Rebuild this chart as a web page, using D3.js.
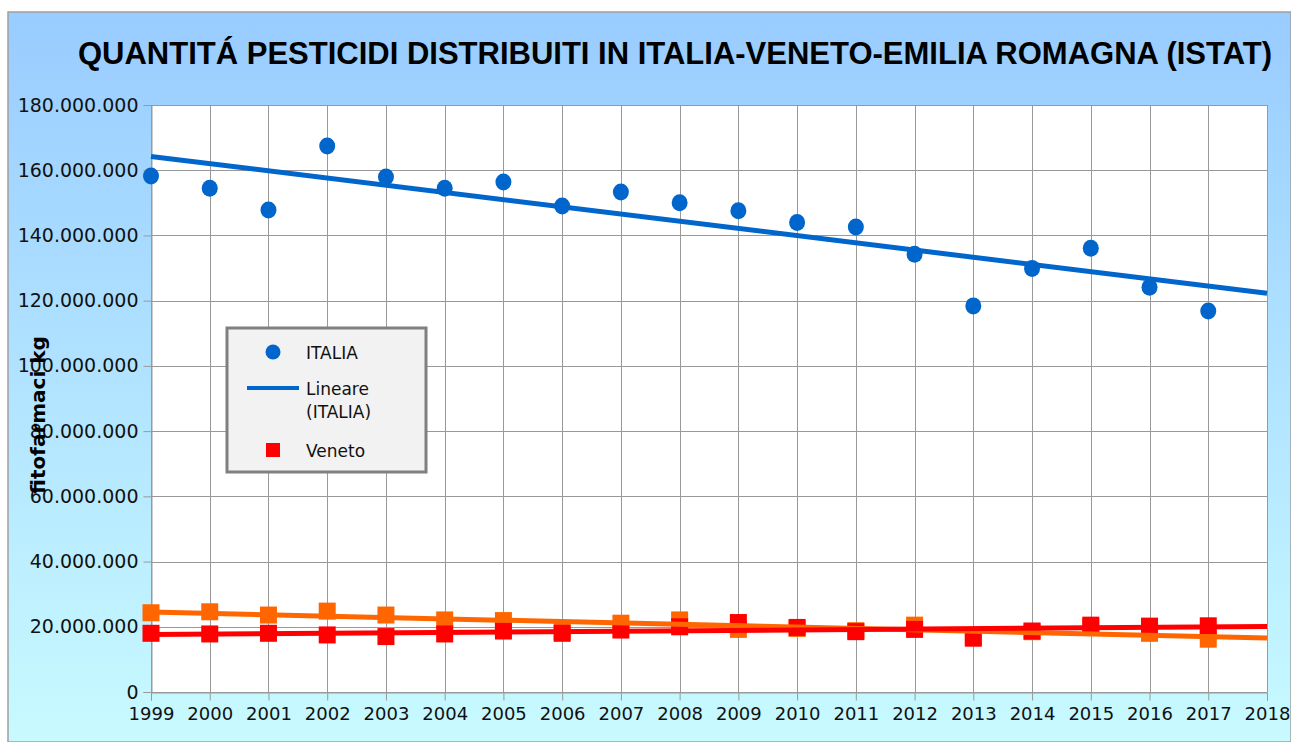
<!DOCTYPE html>
<html>
<head>
<meta charset="utf-8">
<script src="https://cdn.jsdelivr.net/npm/d3@7"></script>
<style>
  body { margin: 0; background: #fff; }
  svg { display: block; }
</style>
</head>
<body>
<svg id="chart" width="1291" height="742"></svg>
<script>
// years on the x axis
const years = [1999, 2000, 2001, 2002, 2003, 2004, 2005, 2006, 2007, 2008,
  2009, 2010, 2011, 2012, 2013, 2014, 2015, 2016, 2017];
// kg
const italia = [158.2, 154.5, 147.8, 167.4, 157.9, 154.5, 156.4, 149.0, 153.3, 150.0,
  147.6, 144.0, 142.6, 134.2, 118.4, 129.9, 136.1, 124.1, 116.8].map(v => v * 1e6);
const veneto = [18.0, 17.8, 18.0, 17.5, 17.0, 17.8, 18.7, 18.0, 19.0, 20.0,
  21.3, 19.8, 18.5, 19.2, 16.5, 18.7, 20.5, 20.2, 20.3].map(v => v * 1e6);
const emilia = [24.3, 24.6, 23.6, 24.8, 23.6, 22.1, 21.9, 18.5, 21.1, 22.1,
  19.2, 19.5, 18.8, 20.5, 16.8, 18.5, 20.0, 18.0, 16.2].map(v => v * 1e6);
const yTicks = [0, 20e6, 40e6, 60e6, 80e6, 100e6, 120e6, 140e6, 160e6, 180e6];

const W = 1291, H = 742;
const margin = { top: 105, right: 24, bottom: 50, left: 151 };
const svg = d3.select("#chart");

// background
const defs = svg.append("defs");
const grad = defs.append("linearGradient").attr("id", "bg")
  .attr("x1", 0).attr("y1", 0).attr("x2", 0).attr("y2", 1);
grad.append("stop").attr("offset", "0%").attr("stop-color", "#99ccff");
grad.append("stop").attr("offset", "100%").attr("stop-color", "#c8faff");
svg.append("rect").attr("x", 8).attr("y", 12).attr("width", W - 8).attr("height", H - 12)
  .attr("fill", "url(#bg)").attr("stroke", "#a0a0a0").attr("stroke-width", 1.5);

const x = d3.scaleLinear().domain([1999, 2018]).range([margin.left, W - margin.right]);
const y = d3.scaleLinear().domain([0, 180e6]).range([H - margin.bottom, margin.top]);

svg.append("rect").attr("x", x(1999)).attr("y", y(180e6))
  .attr("width", x(2018) - x(1999)).attr("height", y(0) - y(180e6)).attr("fill", "#fff");

const fmt = v => v === 0 ? "0" : d3.format(",")(v).replace(/,/g, ".");

// grid
const grid = svg.append("g").attr("stroke", "#999").attr("stroke-width", 1);
grid.selectAll(".gy").data(yTicks).enter().append("line")
  .attr("x1", x(1999)).attr("x2", x(2018))
  .attr("y1", d => Math.round(y(d)) + 0.5).attr("y2", d => Math.round(y(d)) + 0.5);
grid.selectAll(".gx").data(years.concat([2018])).enter().append("line")
  .attr("y1", y(180e6)).attr("y2", y(0))
  .attr("x1", d => Math.round(x(d)) + 0.5).attr("x2", d => Math.round(x(d)) + 0.5);

// axes
const xAxis = svg.append("g").attr("transform", `translate(0,${Math.round(y(0)) + 0.5})`)
  .call(d3.axisBottom(x).tickValues(years.concat([2018])).tickFormat(d3.format("d")).tickSizeOuter(0).tickSize(8).tickPadding(7));
const yAxis = svg.append("g").attr("transform", `translate(${Math.round(x(1999)) + 0.5},0)`)
  .call(d3.axisLeft(y).tickValues(yTicks).tickFormat(fmt).tickSizeOuter(0).tickSize(8).tickPadding(5));
[xAxis, yAxis].forEach(a => {
  a.selectAll("path, line").attr("stroke", "#999");
  a.selectAll("text").attr("fill", "#111").style("font-family", "DejaVu Sans, Verdana, sans-serif");
});
xAxis.selectAll("text").style("font-size", "18px");
yAxis.selectAll("text").style("font-size", "19px");

// markers
const sq = 17;
svg.append("g").selectAll("rect").data(emilia).enter().append("rect")
  .attr("x", (d, i) => x(years[i]) - sq / 2).attr("y", d => y(d) - sq / 2)
  .attr("width", sq).attr("height", sq).attr("fill", "#ff6600");
svg.append("g").selectAll("rect").data(veneto).enter().append("rect")
  .attr("x", (d, i) => x(years[i]) - sq / 2).attr("y", d => y(d) - sq / 2)
  .attr("width", sq).attr("height", sq).attr("fill", "#ff0000");
svg.append("g").selectAll("ellipse").data(italia).enter().append("ellipse")
  .attr("cx", (d, i) => x(years[i])).attr("cy", d => y(d))
  .attr("rx", 8).attr("ry", 8.5).attr("fill", "#0066cc");

// linear trendlines (least squares)
function trend(vals) {
  const mx = d3.mean(years), my = d3.mean(vals);
  let sxy = 0, sxx = 0;
  years.forEach((yr, i) => { sxy += (yr - mx) * (vals[i] - my); sxx += (yr - mx) * (yr - mx); });
  const b = sxy / sxx, a = my - b * mx;
  return [1999, 2018].map(t => [t, a + b * t]);
}
const line = d3.line().x(d => x(d[0])).y(d => y(d[1]));
[[emilia, "#ff6600"], [veneto, "#ff0000"], [italia, "#0066cc"]].forEach(([vals, c]) => {
  svg.append("path").attr("d", line(trend(vals))).attr("stroke", c)
    .attr("stroke-width", 5).attr("fill", "none");
});

// title: shrink font until it fits ~1200px
const title = svg.append("text").attr("x", 675).attr("y", 64).attr("text-anchor", "middle")
  .style("font-family", "Liberation Sans Narrow, Liberation Sans, sans-serif")
  .style("font-weight", "bold").style("font-size", "33px").attr("fill", "#000")
  .text("QUANTITÁ PESTICIDI DISTRIBUITI IN ITALIA-VENETO-EMILIA ROMAGNA (ISTAT)");
let fs = 33;
while (title.node().getComputedTextLength() > 1200 && fs > 10) {
  fs -= 0.5;
  title.style("font-size", fs + "px");
}

// y axis label
svg.append("text").attr("transform", "translate(45,415) rotate(-90)").attr("text-anchor", "middle")
  .style("font-family", "DejaVu Sans, sans-serif").style("font-weight", "bold").style("font-size", "20px")
  .attr("fill", "#000").text("fitofarmaci kg");

// legend
const lg = svg.append("g");
lg.append("rect").attr("x", 227).attr("y", 328).attr("width", 199).attr("height", 144)
  .attr("fill", "#f2f2f2").attr("stroke", "#808080").attr("stroke-width", 3);
const lt = (tx, ty, s) => lg.append("text").attr("x", tx).attr("y", ty).attr("dy", "0.35em")
  .style("font-family", "DejaVu Sans, sans-serif").style("font-size", "17px").attr("fill", "#111").text(s);
lg.append("circle").attr("cx", 273).attr("cy", 352).attr("r", 7.5).attr("fill", "#0066cc");
lt(306, 353, "ITALIA");
lg.append("line").attr("x1", 247).attr("x2", 299).attr("y1", 388).attr("y2", 388)
  .attr("stroke", "#0066cc").attr("stroke-width", 4);
lt(306, 389, "Lineare");
lt(306, 412, "(ITALIA)");
lg.append("rect").attr("x", 266).attr("y", 443).attr("width", 14).attr("height", 14).attr("fill", "#ff0000");
lt(306, 451, "Veneto");
</script>
</body>
</html>
